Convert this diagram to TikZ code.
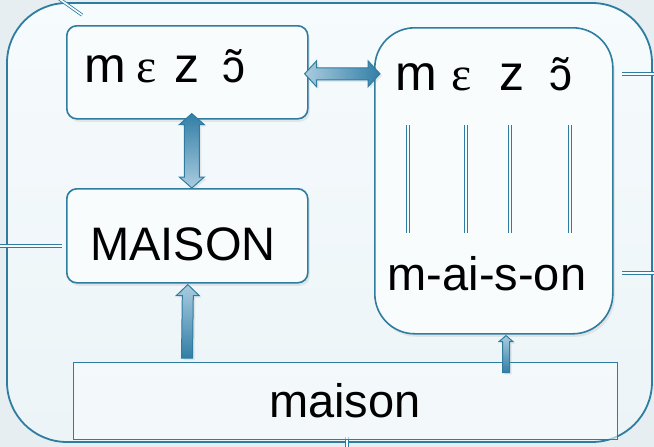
\documentclass[tikz,border=0pt]{standalone}
\usepackage{fontspec}
\setmainfont{Liberation Sans}
\newfontfamily\serifipa{Liberation Serif}
\usetikzlibrary{calc,shadows}

\definecolor{edge}{RGB}{46,125,160}
\definecolor{pagebg}{RGB}{230,238,241}
\definecolor{paneltop}{RGB}{246,251,253}
\definecolor{panelbot}{RGB}{236,244,247}
\definecolor{boxfill}{RGB}{248,252,253}
\definecolor{arrowdark}{RGB}{50,126,166}
\definecolor{arrowlight}{RGB}{170,204,224}

% block arrow pointing up: tail, tip, half shaft, half head, head length
\newcommand\blockup[5]{%
  \shadedraw[blockarrow, top color=arrowlight, bottom color=arrowdark]
    ($(#1)+(-#3,0)$) -- ($(#2)+(-#3,#5)$) -- ($(#2)+(-#4,#5)$) -- (#2)
    -- ($(#2)+(#4,#5)$) -- ($(#2)+(#3,#5)$) -- ($(#1)+(#3,0)$) -- cycle;}
% vertical double block arrow: upper tip, lower tip, half shaft, half head, head length
\newcommand\blockupdown[5]{%
  \shadedraw[blockarrow, top color=arrowdark, bottom color=arrowlight]
    (#1) -- ($(#1)+(#4,#5)$) -- ($(#1)+(#3,#5)$) -- ($(#2)+(#3,-#5)$)
    -- ($(#2)+(#4,-#5)$) -- (#2) -- ($(#2)+(-#4,-#5)$) -- ($(#2)+(-#3,-#5)$)
    -- ($(#1)+(-#3,#5)$) -- ($(#1)+(-#4,#5)$) -- cycle;}
% horizontal double block arrow: left tip, right tip, half shaft, half head, head length
\newcommand\blockleftright[5]{%
  \shadedraw[blockarrow, left color=arrowlight, right color=arrowdark]
    (#1) -- ($(#1)+(#5,-#4)$) -- ($(#1)+(#5,-#3)$) -- ($(#2)+(-#5,-#3)$)
    -- ($(#2)+(-#5,-#4)$) -- (#2) -- ($(#2)+(-#5,#4)$) -- ($(#2)+(-#5,#3)$)
    -- ($(#1)+(#5,#3)$) -- ($(#1)+(#5,#4)$) -- cycle;}

\begin{document}
\begin{tikzpicture}[x=1pt,y=-1pt,
  wordbox/.style={draw=edge, line width=1.6pt, fill=boxfill, rounded corners=10pt,
    drop shadow={opacity=0.15, shadow xshift=2pt, shadow yshift=-3pt},
    inner sep=0pt, anchor=north west},
  blockarrow/.style={draw=edge, line width=1pt,
    drop shadow={opacity=0.15, shadow xshift=2pt, shadow yshift=-2pt}},
  stub/.style={draw=edge, line width=0.8pt, double=paneltop, double distance=1.6pt},
  bigtext/.style={font=\fontsize{47}{50}\selectfont, inner sep=0pt},
  ipa/.style={font=\fontsize{50}{56}\selectfont, inner sep=0pt, anchor=base west},
  ipaopen/.style={font=\fontsize{46}{50}\selectfont, inner sep=0pt, anchor=base west},
  ipaeps/.style={font=\serifipa\fontsize{48}{52}\selectfont, inner sep=0pt, anchor=base west}]

\useasboundingbox (0,0) rectangle (654,447);
\fill[pagebg] (0,0) rectangle (654,447);

% outer frame
\shadedraw[draw=edge, line width=1.8pt, top color=paneltop, bottom color=panelbot,
  rounded corners=60pt] (7,3) rectangle (652,442);

% double-line stubs leaving the frame
\draw[stub] (58,-2) -- (82,15);
\draw[stub] (622,74) -- (658,74);
\draw[stub] (-4,246) -- (62,246);
\draw[stub] (622,273) -- (658,273);
\draw[stub] (347,437) -- (347,450);

% boxes
\node[wordbox, minimum width=241pt, minimum height=93pt] (phon) at (66,25) {};
\node[wordbox, minimum width=241pt, minimum height=94pt] (lex) at (66,188) {};
\node[wordbox, rounded corners=40pt, minimum width=238pt, minimum height=306pt] (map) at (374,27) {};
\node[draw=edge, line width=1pt, fill=boxfill, fill opacity=0.6, draw opacity=1,
  inner sep=0pt, anchor=north west, minimum width=544pt, minimum height=77pt] (ortho) at (73,362) {};

% phonemes, left box
\node[ipa] (p1) at (84,82) {m};
\node[ipaeps] (p2) at (136,82) {ɛ};
\node[ipa] (p3) at (174,82) {z};
\node[ipaopen] (p4) at (222,82) {ɔ̃};

% phonemes, right box
\node[ipa] (q1) at (395,90) {m};
\node[ipaeps] (q2) at (451,90) {ɛ};
\node[ipa] (q3) at (499,90) {z};
\node[ipaopen] (q4) at (549,90) {ɔ̃};

% correspondence bars
\foreach \x in {408,466,510,570}
  \draw[stub, line width=0.9pt, double distance=2pt] (\x,125) -- (\x,233);

% words
\node[bigtext, anchor=base] (lexword) at (183,260) {MAISON};
\node[bigtext, anchor=base] (graph) at (487,290) {m-ai-s-on};
\node[bigtext, anchor=base] (orthword) at (345,417) {maison};

% block arrows
\coordinate (hl) at ($(phon.east)+(-4,1.5)$);
\coordinate (hr) at ($(map.west |- hl)+(6,0)$);
\blockleftright{hl}{hr}{6}{13}{12}

\coordinate (vt) at ($(phon.south)+(4.5,-6)$);
\coordinate (vb) at ($(lex.north)+(4.5,0)$);
\blockupdown{vt}{vb}{7.5}{12.5}{11}

\coordinate (ut) at ($(lex.south)+(0.5,1)$);
\coordinate (ub) at ($(ortho.north west)+(114,-4)$);
\blockup{ub}{ut}{5.5}{11.5}{11}

\coordinate (st) at ($(map.south west)+(132,1)$);
\coordinate (sb) at ($(st)+(0,37)$);
\blockup{sb}{st}{3.5}{7}{6}

\end{tikzpicture}
\end{document}
